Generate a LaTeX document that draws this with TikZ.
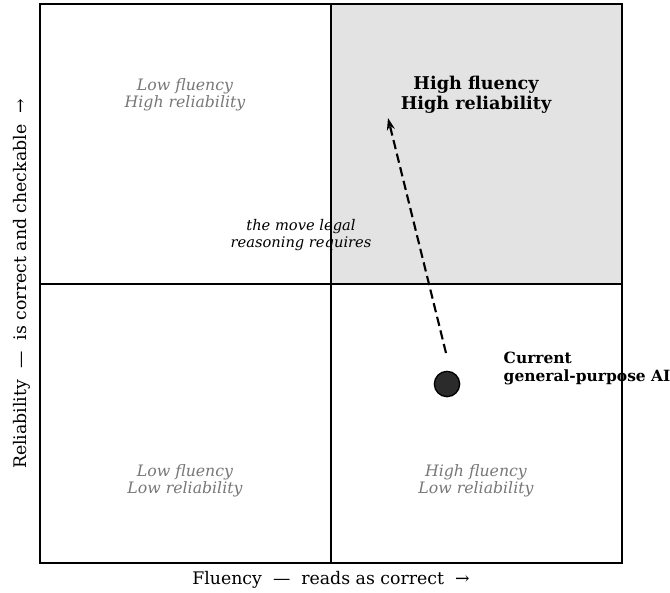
\documentclass[tikz,border=0pt]{standalone}
\usepackage{fontspec}
\setmainfont{DejaVu Serif}
\usetikzlibrary{arrows.meta}
\definecolor{qgray}{HTML}{777777}
\definecolor{qfill}{HTML}{E3E3E3}
\definecolor{dotgray}{HTML}{2B2B2B}

\begin{document}
\begin{tikzpicture}[
  x=0.75pt, y=-0.75pt,
  quad/.style={
    align=center,
    text=qgray,
    font=\fontsize{11.8}{13}\selectfont\itshape
  },
  goal/.style={
    align=center,
    font=\fontsize{13.2}{15.2}\selectfont\bfseries
  },
  axislabel/.style={
    font=\fontsize{13}{15}\selectfont
  },
  frame/.style={black, line width=1.1pt}
]
  \useasboundingbox (0,0) rectangle (670,592);

  % upper right quadrant
  \fill[qfill] (331,4) rectangle (622,284);
  \draw[frame] (40,4) rectangle (622,563);
  \draw[frame] (331,4) -- (331,563);
  \draw[frame] (40,284) -- (622,284);

  \node[quad] (lh) at (185,95) {Low fluency\\High reliability};
  \node[goal] (hh) at (476,95) {High fluency\\High reliability};
  \node[quad] (ll) at (185,481) {Low fluency\\Low reliability};
  \node[quad] (hl) at (476,481) {High fluency\\Low reliability};

  \node[align=center, font=\fontsize{11}{12.2}\selectfont\itshape] (move) at (301,235)
    {the move legal\\reasoning requires};

  % current position
  \node[circle, draw=black, line width=1pt, fill=dotgray, minimum size=19pt, inner sep=0pt] (ai) at (447,384) {};
  \node[anchor=west, align=left, font=\fontsize{11.6}{13.5}\selectfont\bfseries] (ailabel) at (499,368)
    {Current\\general-purpose AI};

  \coordinate (tail) at (446,353);
  \coordinate (head) at (388,118);
  \draw[-{Stealth[length=9pt,width=6pt]}, dash pattern=on 7pt off 3.5pt, line width=1.6pt] (tail) -- (head);

  % axes
  \node[axislabel] (xlab) at (331,580) {Fluency\ \ —\ \ reads as correct\ \ →};
  \node[axislabel, rotate=90] (ylab) at (22,284) {Reliability\ \ —\ \ is correct and checkable\ \ →};
\end{tikzpicture}
\end{document}
